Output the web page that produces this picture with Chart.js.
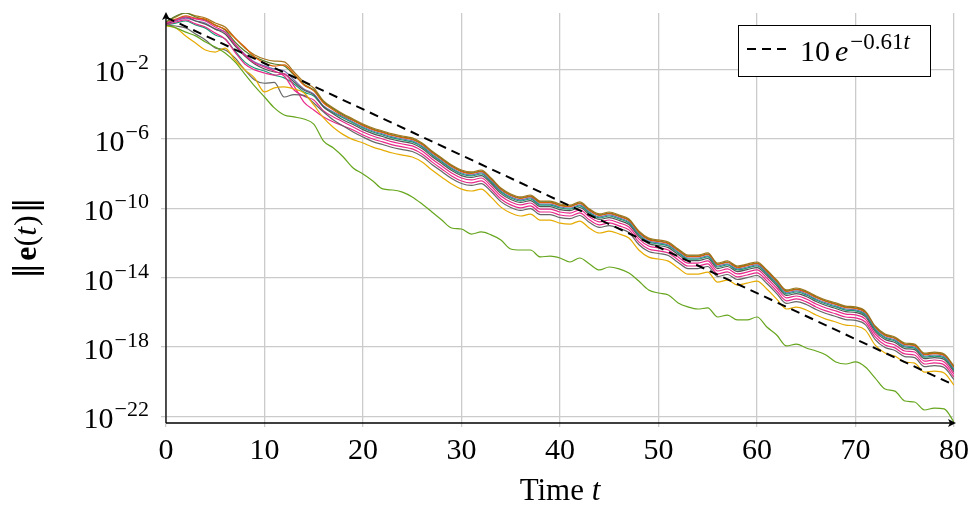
<!DOCTYPE html>
<html>
<head>
<meta charset="utf-8">
<script src="https://cdn.jsdelivr.net/npm/chart.js@4.4.1/dist/chart.umd.min.js"></script>
<style>
  html, body { margin: 0; padding: 0; background: #fff; }
  #wrap { width: 973px; height: 508px; }
</style>
</head>
<body>
<div id="wrap"><canvas id="chart"></canvas></div>
<script>
// time samples
const TIME = [0,1,2,3,4,5,6,7,8,9,10,11,12,13,14,15,16,17,18,19,20,21,22,23,24,25,26,27,28,29,30,
  31,32,33,34,35,36,37,38,39,40,41,42,43,44,45,46,47,48,49,50,51,52,53,54,55,56,57,58,59,60,
  61,62,63,64,65,66,67,68,69,70,71,72,73,74,75,76,77,78,79,80];

// log10 of ||e(t)|| for each run at t = 0..80
const brown = [0.73,1.02,1.25,1.08,0.96,0.67,0.44,-0.19,-0.77,-1.17,
  -1.40,-1.52,-1.57,-2.15,-2.73,-3.07,-3.82,-4.22,-4.57,-4.86,
  -5.15,-5.38,-5.55,-5.72,-5.84,-5.95,-6.24,-6.70,-7.11,-7.51,
  -7.80,-7.91,-7.80,-8.26,-8.84,-9.18,-9.35,-9.24,-9.59,-9.59,
  -9.76,-9.82,-9.64,-10.05,-10.33,-10.22,-10.39,-10.62,-11.31,-11.72,
  -11.83,-11.95,-12.35,-12.70,-12.70,-12.58,-13.16,-13.04,-13.33,-13.22,
  -13.10,-13.56,-14.14,-14.71,-14.60,-14.77,-15.06,-15.29,-15.46,-15.64,
  -15.69,-15.93,-16.79,-17.25,-17.42,-17.77,-17.83,-18.35,-18.29,-18.40,
  -19.10];
const olive = [0.73,1.08,1.25,1.02,0.84,0.55,0.27,-0.42,-0.94,-1.29,
  -1.52,-1.69,-1.80,-2.32,-2.85,-3.19,-3.88,-4.28,-4.63,-4.92,
  -5.21,-5.44,-5.61,-5.78,-5.90,-6.01,-6.30,-6.76,-7.17,-7.57,
  -7.86,-7.97,-7.86,-8.32,-8.90,-9.24,-9.41,-9.30,-9.65,-9.65,
  -9.82,-9.88,-9.70,-10.11,-10.39,-10.28,-10.45,-10.68,-11.37,-11.78,
  -11.89,-12.01,-12.41,-12.76,-12.76,-12.64,-13.22,-13.10,-13.39,-13.28,
  -13.16,-13.62,-14.20,-14.77,-14.66,-14.83,-15.12,-15.35,-15.52,-15.70,
  -15.75,-15.99,-16.85,-17.31,-17.48,-17.83,-17.89,-18.41,-18.35,-18.46,
  -19.16];
const orange = [0.67,0.90,1.08,0.96,0.90,0.55,0.32,-0.19,-0.71,-1.29,
  -1.63,-1.81,-1.74,-2.27,-2.90,-3.24,-3.94,-4.34,-4.69,-4.95,
  -5.24,-5.47,-5.64,-5.81,-5.93,-6.04,-6.33,-6.79,-7.20,-7.60,
  -7.89,-8.00,-7.89,-8.35,-8.93,-9.27,-9.44,-9.33,-9.68,-9.68,
  -9.85,-9.91,-9.73,-10.14,-10.42,-10.31,-10.48,-10.71,-11.40,-11.81,
  -11.92,-12.04,-12.44,-12.79,-12.79,-12.67,-13.25,-13.13,-13.42,-13.31,
  -13.19,-13.65,-14.23,-14.80,-14.69,-14.86,-15.15,-15.38,-15.55,-15.73,
  -15.78,-16.02,-16.88,-17.34,-17.51,-17.86,-17.92,-18.44,-18.38,-18.49,
  -19.19];
const purple = [0.61,0.79,0.96,0.79,0.67,0.32,0.15,-0.54,-1.12,-1.57,
  -1.80,-1.98,-2.09,-2.61,-3.13,-3.42,-4.11,-4.45,-4.74,-5.03,
  -5.32,-5.55,-5.72,-5.89,-6.01,-6.12,-6.41,-6.87,-7.28,-7.68,
  -7.97,-8.08,-7.97,-8.43,-9.01,-9.35,-9.52,-9.41,-9.76,-9.76,
  -9.93,-9.99,-9.81,-10.22,-10.50,-10.39,-10.56,-10.79,-11.48,-11.89,
  -12.00,-12.12,-12.52,-12.87,-12.87,-12.75,-13.33,-13.21,-13.50,-13.39,
  -13.27,-13.73,-14.31,-14.88,-14.77,-14.94,-15.23,-15.46,-15.63,-15.81,
  -15.86,-16.10,-16.96,-17.42,-17.59,-17.94,-18.00,-18.52,-18.46,-18.57,
  -19.27];
const teal = [0.56,0.67,0.79,0.56,0.38,-0.02,-0.25,-0.94,-1.58,-1.92,
  -2.09,-2.33,-2.49,-2.84,-3.31,-3.53,-4.17,-4.51,-4.80,-5.09,
  -5.38,-5.61,-5.78,-5.95,-6.07,-6.18,-6.47,-6.93,-7.34,-7.74,
  -8.03,-8.14,-8.03,-8.49,-9.07,-9.41,-9.58,-9.47,-9.82,-9.82,
  -9.99,-10.05,-9.87,-10.28,-10.56,-10.45,-10.62,-10.85,-11.54,-11.95,
  -12.06,-12.18,-12.58,-12.93,-12.93,-12.81,-13.39,-13.27,-13.56,-13.45,
  -13.33,-13.79,-14.37,-14.94,-14.83,-15.00,-15.29,-15.52,-15.69,-15.87,
  -15.92,-16.16,-17.02,-17.48,-17.65,-18.00,-18.06,-18.58,-18.52,-18.63,
  -19.33];
const dgray = [0.61,0.85,1.02,0.79,0.61,0.32,0.04,-0.65,-1.23,-1.69,
  -1.98,-2.15,-2.26,-2.73,-3.19,-3.47,-4.17,-4.57,-4.92,-5.18,
  -5.47,-5.70,-5.87,-6.04,-6.16,-6.27,-6.56,-7.02,-7.43,-7.83,
  -8.12,-8.23,-8.12,-8.58,-9.16,-9.50,-9.67,-9.56,-9.91,-9.91,
  -10.08,-10.14,-9.96,-10.37,-10.65,-10.54,-10.71,-10.94,-11.63,-12.04,
  -12.15,-12.27,-12.67,-13.02,-13.02,-12.90,-13.48,-13.36,-13.65,-13.54,
  -13.42,-13.88,-14.46,-15.03,-14.92,-15.09,-15.38,-15.61,-15.78,-15.96,
  -16.01,-16.25,-17.11,-17.57,-17.74,-18.09,-18.15,-18.67,-18.61,-18.72,
  -19.42];
const pink1 = [0.67,0.85,1.02,0.91,0.79,0.44,0.15,-0.54,-1.17,-1.63,
  -1.86,-2.10,-2.38,-3.19,-3.54,-3.76,-4.40,-4.74,-5.03,-5.32,
  -5.61,-5.84,-6.01,-6.18,-6.30,-6.41,-6.70,-7.16,-7.57,-7.97,
  -8.26,-8.37,-8.26,-8.72,-9.30,-9.64,-9.81,-9.70,-10.05,-10.05,
  -10.22,-10.28,-10.10,-10.51,-10.79,-10.68,-10.85,-11.08,-11.77,-12.18,
  -12.29,-12.41,-12.81,-13.16,-13.16,-13.04,-13.62,-13.50,-13.79,-13.68,
  -13.56,-14.02,-14.60,-15.17,-15.06,-15.23,-15.52,-15.75,-15.92,-16.10,
  -16.15,-16.39,-17.25,-17.71,-17.88,-18.23,-18.29,-18.81,-18.75,-18.86,
  -19.56];
const pink2 = [0.56,0.73,0.85,0.62,0.44,0.09,-0.25,-1.00,-1.69,-2.03,
  -2.21,-2.33,-2.26,-2.96,-3.88,-4.34,-4.74,-5.03,-5.26,-5.49,
  -5.78,-6.01,-6.18,-6.35,-6.47,-6.58,-6.87,-7.33,-7.74,-8.14,
  -8.43,-8.54,-8.43,-8.89,-9.47,-9.81,-9.98,-9.87,-10.22,-10.22,
  -10.39,-10.45,-10.27,-10.68,-10.96,-10.85,-11.02,-11.25,-11.94,-12.35,
  -12.46,-12.58,-12.98,-13.33,-13.33,-13.21,-13.79,-13.67,-13.96,-13.85,
  -13.73,-14.19,-14.77,-15.34,-15.23,-15.40,-15.69,-15.92,-16.09,-16.27,
  -16.32,-16.56,-17.42,-17.88,-18.05,-18.40,-18.46,-18.98,-18.92,-19.03,
  -19.73];
const gray2 = [0.56,0.50,0.39,0.04,-0.30,-0.76,-0.88,-1.34,-2.03,-2.61,
  -2.80,-2.75,-3.59,-3.45,-3.50,-3.94,-4.46,-4.92,-5.26,-5.61,
  -5.90,-6.16,-6.33,-6.50,-6.62,-6.73,-7.02,-7.48,-7.89,-8.29,
  -8.58,-8.69,-8.58,-9.04,-9.62,-9.96,-10.13,-10.02,-10.37,-10.37,
  -10.54,-10.60,-10.42,-10.83,-11.11,-11.00,-11.17,-11.40,-12.09,-12.50,
  -12.61,-12.73,-13.13,-13.48,-13.48,-13.36,-13.94,-13.82,-14.11,-14.00,
  -13.88,-14.34,-14.92,-15.49,-15.38,-15.55,-15.84,-16.07,-16.24,-16.42,
  -16.47,-16.71,-17.57,-18.03,-18.20,-18.55,-18.61,-19.13,-19.07,-19.18,
  -19.88];
const yellow = [0.50,0.39,-0.07,-0.48,-0.88,-1.00,-0.77,-1.46,-2.03,-2.50,
  -3.30,-3.07,-3.01,-3.13,-3.35,-4.05,-4.80,-5.35,-5.76,-6.05,
  -6.24,-6.48,-6.65,-6.82,-6.94,-7.05,-7.34,-7.80,-8.21,-8.61,
  -8.90,-9.01,-8.90,-9.36,-9.94,-10.28,-10.45,-10.34,-10.69,-10.69,
  -10.86,-10.92,-10.74,-11.15,-11.43,-11.32,-11.49,-11.72,-12.41,-12.82,
  -12.93,-13.05,-13.45,-13.80,-13.80,-13.68,-14.26,-14.14,-14.43,-14.32,
  -14.20,-14.66,-15.24,-15.81,-15.70,-15.87,-16.16,-16.39,-16.56,-16.74,
  -16.79,-17.03,-17.89,-18.35,-18.52,-18.87,-18.93,-19.45,-19.39,-19.50,
  -20.20];
const green = [0.56,0.39,0.15,-0.07,-0.42,-0.71,-1.06,-1.57,-2.27,-2.96,
  -3.59,-4.22,-4.63,-4.74,-4.86,-5.15,-6.13,-6.53,-7.05,-7.68,
  -8.03,-8.43,-8.89,-8.95,-9.07,-9.35,-9.76,-10.22,-10.68,-11.14,
  -11.20,-11.49,-11.37,-11.54,-11.83,-12.35,-12.41,-12.41,-12.81,-12.76,
  -12.87,-13.10,-12.87,-13.22,-13.56,-13.39,-13.50,-13.74,-14.20,-14.71,
  -14.89,-15.00,-15.46,-15.69,-15.81,-15.75,-16.27,-16.16,-16.44,-16.44,
  -16.27,-16.85,-17.31,-17.94,-17.83,-18.06,-18.23,-18.46,-18.86,-18.98,
  -18.86,-19.15,-19.79,-20.42,-20.54,-21.11,-21.17,-21.63,-21.52,-21.57,
  -22.32];

// reference rate 10 e^{-0.61 t}, end points
const REF_T = [0, 80];
const REF_Y = [10, 6.4e-21];

const X_TICKS = [0, 10, 20, 30, 40, 50, 60, 70, 80];
const Y_TICK_EXP = [-22, -18, -14, -10, -6, -2];

const SERIF = '"Liberation Serif", "DejaVu Serif", serif';
const GRID = '#cbcbcb';

const runs = [
  [green, '#66a61e'], [yellow, '#e6ab02'], [gray2, '#666666'], [pink2, '#e7298a'],
  [pink1, '#e7298a'], [dgray, '#555555'], [teal, '#1b9e77'], [purple, '#7570b3'],
  [orange, '#d95f02'], [olive, '#5b7f2a'], [brown, '#a6761d']
];

const datasets = [{
  data: REF_T.map((t, i) => ({ x: t, y: REF_Y[i] })),
  borderColor: '#000', borderWidth: 2, borderDash: [9, 6], order: 0
}];
runs.forEach(([logs, color]) => {
  datasets.push({
    data: TIME.map((t, i) => ({ x: t, y: Math.pow(10, logs[i]) })),
    borderColor: color, borderWidth: 1.2, cubicInterpolationMode: 'monotone', order: 1
  });
});

// draw a row of text pieces (for superscripts / italics)
function drawRuns(ctx, pieces, x, y, align) {
  let w = 0;
  pieces.forEach(p => { ctx.font = p.font; w += ctx.measureText(p.text).width + (p.gap || 0); });
  let cx = align === 'right' ? x - w : align === 'center' ? x - w / 2 : x;
  pieces.forEach(p => {
    ctx.font = p.font;
    ctx.fillText(p.text, cx, y + (p.dy || 0));
    cx += ctx.measureText(p.text).width + (p.gap || 0);
  });
}

function arrow(ctx, tx, ty, dir) {
  // dir: 'up' or 'right'; small stealth-like head
  ctx.beginPath();
  if (dir === 'up') {
    ctx.moveTo(tx, ty); ctx.lineTo(tx - 4, ty + 8); ctx.lineTo(tx, ty + 6); ctx.lineTo(tx + 4, ty + 8);
  } else {
    ctx.moveTo(tx, ty); ctx.lineTo(tx - 8, ty - 4); ctx.lineTo(tx - 6, ty); ctx.lineTo(tx - 8, ty + 4);
  }
  ctx.closePath();
  ctx.fill();
}

const decor = {
  id: 'decor',
  afterDraw(chart) {
    const { ctx, chartArea: a, scales: { x, y } } = chart;
    ctx.save();
    ctx.fillStyle = '#000';
    ctx.strokeStyle = '#000';
    ctx.textBaseline = 'alphabetic';

    // axis lines with arrows
    ctx.lineWidth = 1.3;
    ctx.beginPath();
    ctx.moveTo(a.left, a.bottom); ctx.lineTo(a.left, a.top + 4);
    ctx.moveTo(a.left, a.bottom); ctx.lineTo(a.right - 4, a.bottom);
    ctx.stroke();
    arrow(ctx, a.left, a.top - 1, 'up');
    arrow(ctx, a.right + 2, a.bottom, 'right');

    // x tick labels
    X_TICKS.forEach(v => {
      drawRuns(ctx, [{ text: String(v), font: '30px ' + SERIF }], x.getPixelForValue(v), 459, 'center');
    });
    // y tick labels 10^e
    Y_TICK_EXP.forEach(e => {
      const gy = y.getPixelForValue(Math.pow(10, e));
      drawRuns(ctx, [
        { text: '10', font: '30px ' + SERIF, gap: 1 },
        { text: '\u2212' + Math.abs(e), font: '22px ' + SERIF, dy: -12 }
      ], 149, gy + 12, 'right');
    });

    // x title
    drawRuns(ctx, [
      { text: 'Time ', font: '31px ' + SERIF },
      { text: 't', font: 'italic 31px ' + SERIF }
    ], 560, 500, 'center');

    // y title, rotated
    ctx.save();
    ctx.translate(36, 238);
    ctx.rotate(-Math.PI / 2);
    const BAR = '32px "DejaVu Serif", serif';
    drawRuns(ctx, [
      { text: '\u2016', font: BAR, gap: 2 },
      { text: 'e', font: 'bold 32px ' + SERIF },
      { text: '(', font: '32px ' + SERIF },
      { text: 't', font: 'italic 32px ' + SERIF, gap: 1 },
      { text: ')', font: '32px ' + SERIF, gap: 2 },
      { text: '\u2016', font: BAR }
    ], 0, 0, 'center');
    ctx.restore();

    // legend
    ctx.fillStyle = '#fff';
    ctx.fillRect(738, 25, 192, 51);
    ctx.lineWidth = 1;
    ctx.strokeRect(738.5, 25.5, 192, 51);
    ctx.lineWidth = 2;
    ctx.setLineDash([9, 6]);
    ctx.beginPath(); ctx.moveTo(747, 49); ctx.lineTo(789, 49); ctx.stroke();
    ctx.setLineDash([]);
    ctx.fillStyle = '#000';
    drawRuns(ctx, [
      { text: '10', font: '30px ' + SERIF, gap: 5 },
      { text: 'e', font: 'italic 30px ' + SERIF, gap: 2 },
      { text: '\u22120.61', font: '23px ' + SERIF, dy: -12 },
      { text: 't', font: 'italic 23px ' + SERIF, dy: -12 }
    ], 800, 61, 'left');

    ctx.restore();
  }
};

new Chart(document.getElementById('chart'), {
  type: 'line',
  data: { datasets },
  options: {
    responsive: true,
    maintainAspectRatio: false,
    animation: false,
    events: [],
    layout: { padding: { left: 0, right: 19, top: 13, bottom: 0 } },
    elements: { point: { radius: 0 } },
    plugins: { legend: { display: false }, tooltip: { enabled: false } },
    scales: {
      x: {
        type: 'linear', min: 0, max: 80,
        afterBuildTicks: s => { s.ticks = X_TICKS.map(v => ({ value: v })); },
        afterFit: s => { s.height = 85; },
        ticks: { display: false },
        grid: { color: GRID, lineWidth: 1.3, drawTicks: true, tickLength: 4, tickColor: GRID },
        border: { display: false }
      },
      y: {
        type: 'logarithmic',
        min: Math.pow(10, -22.38), max: Math.pow(10, 1.25),
        afterBuildTicks: s => { s.ticks = Y_TICK_EXP.map(e => ({ value: Math.pow(10, e) })); },
        afterFit: s => { s.width = 166; },
        ticks: { display: false },
        grid: { color: GRID, lineWidth: 1.3, drawTicks: true, tickLength: 5, tickColor: GRID },
        border: { display: false }
      }
    }
  },
  plugins: [decor]
});
</script>
</body>
</html>
